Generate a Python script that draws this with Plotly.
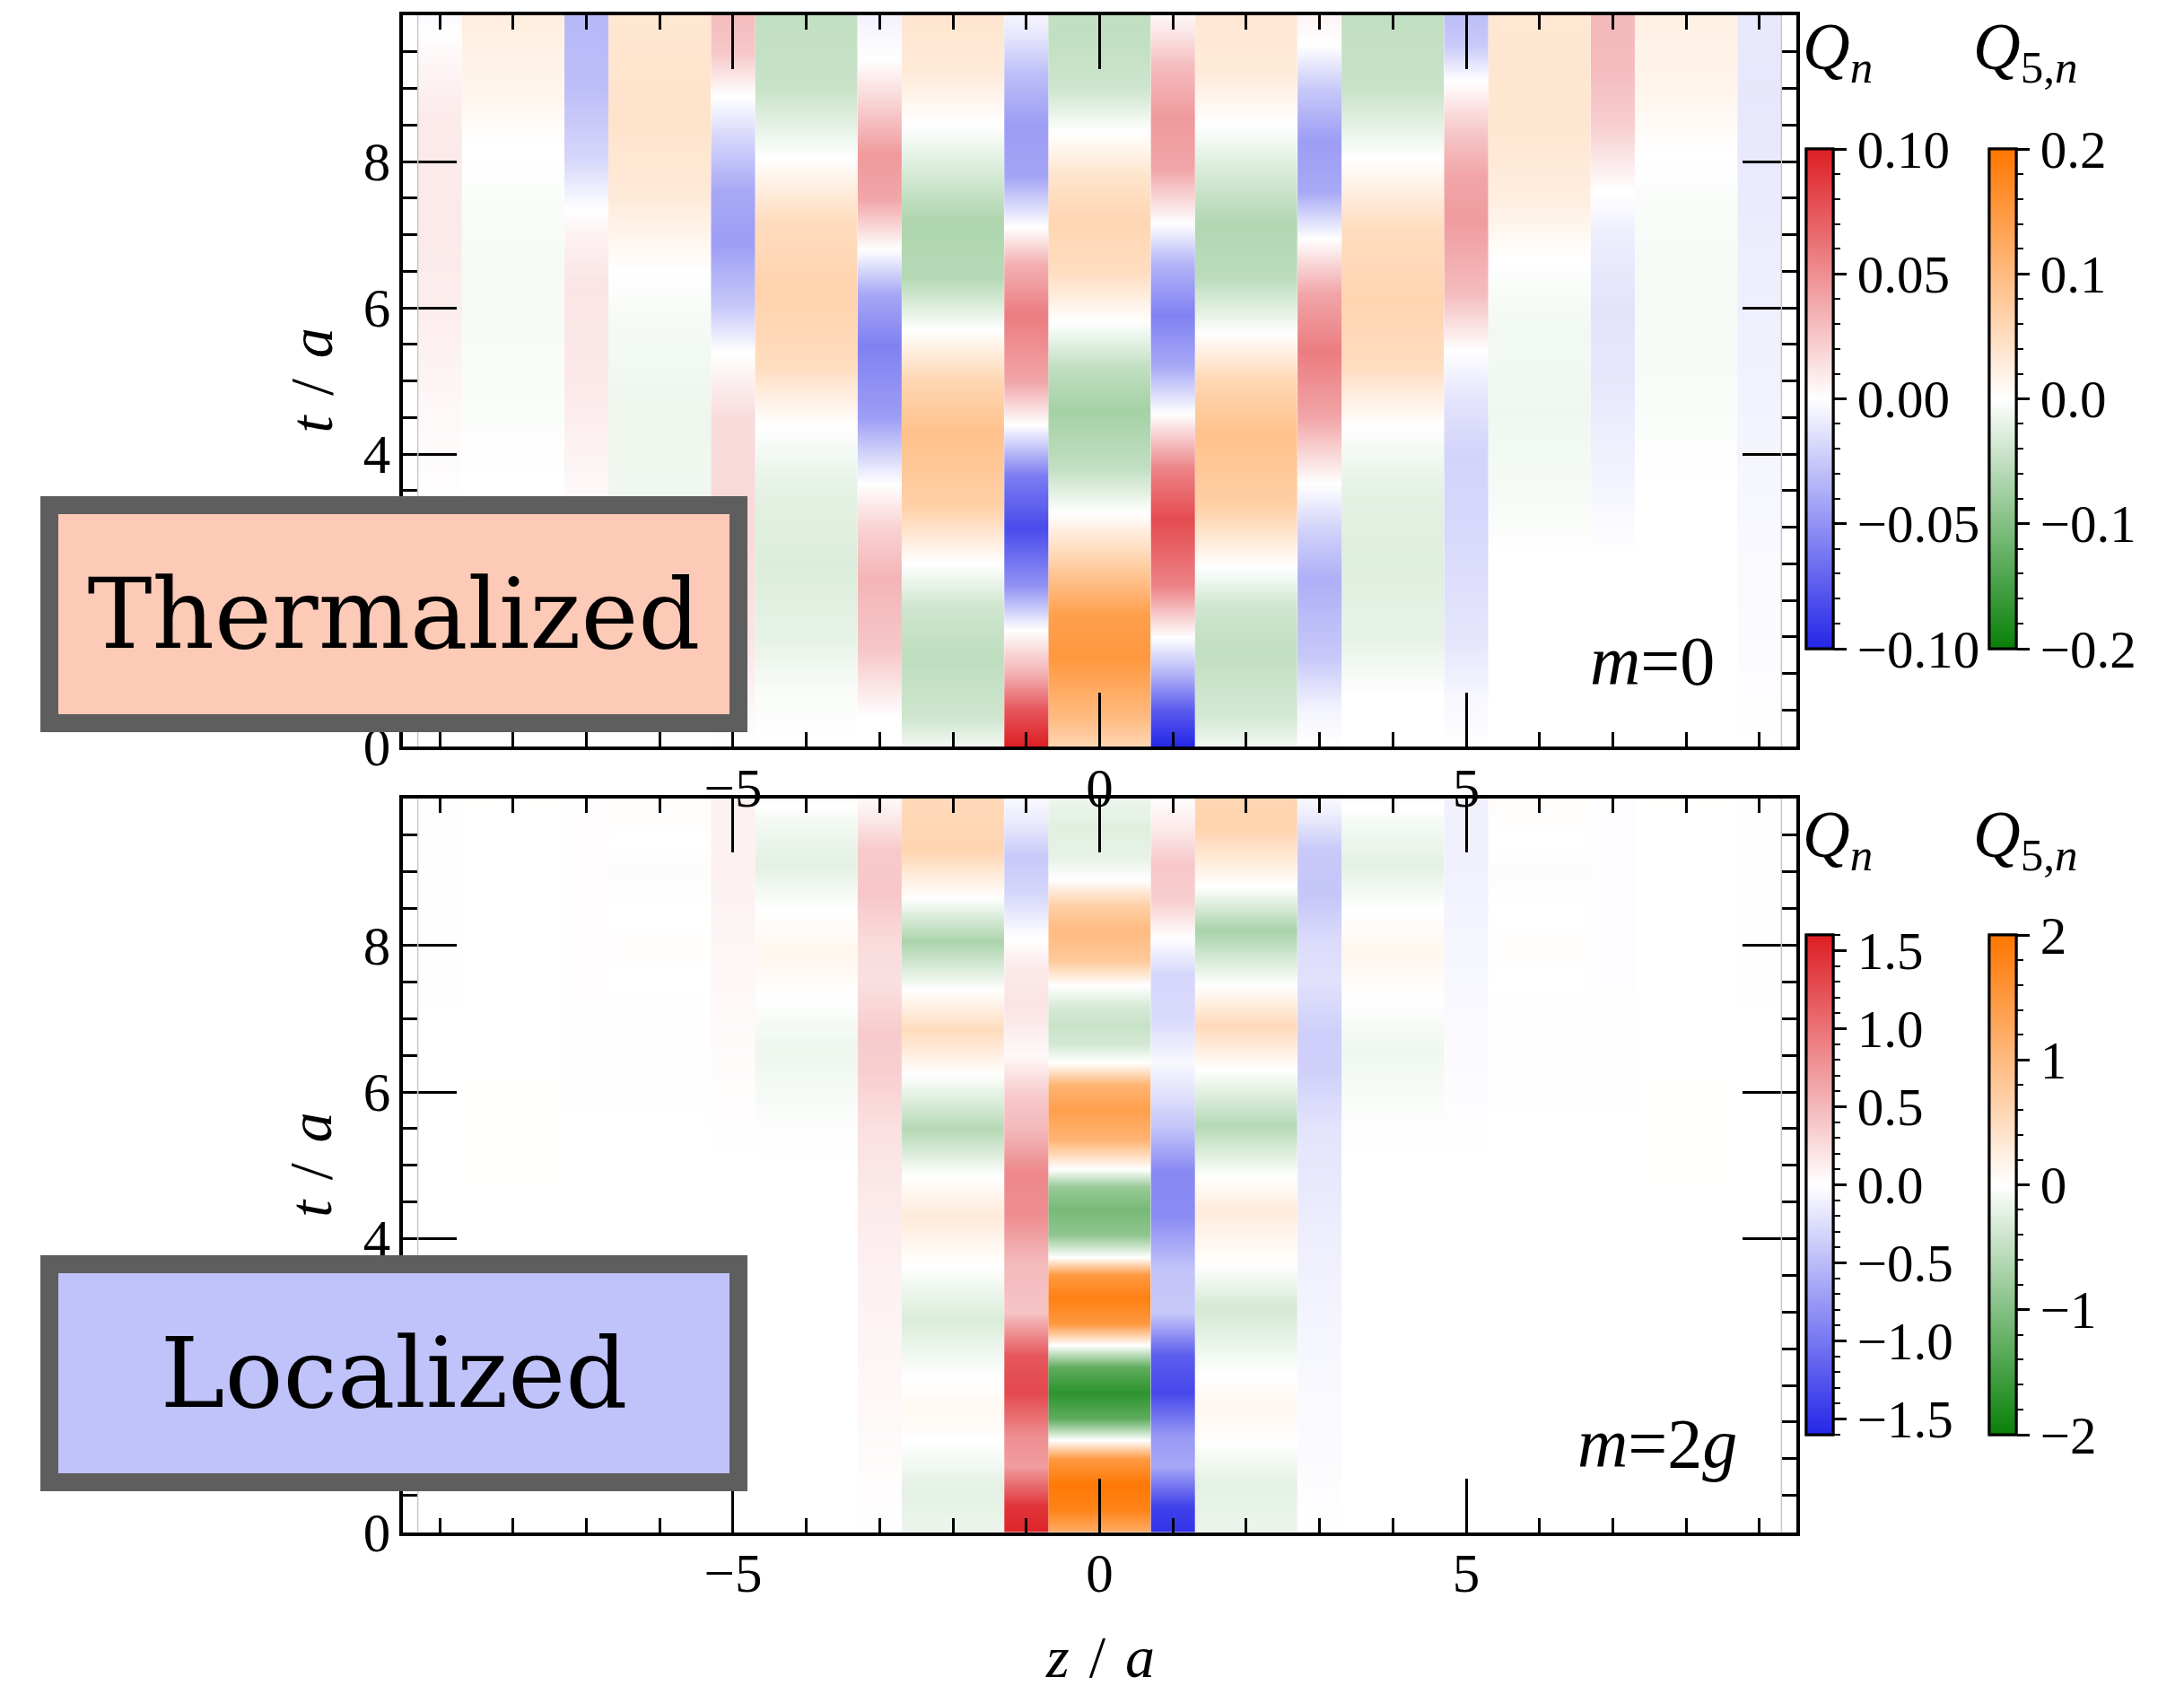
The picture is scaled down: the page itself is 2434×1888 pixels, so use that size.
import plotly.graph_objects as go

W, H = 2434, 1888

# ---------------- data ----------------
SITES = [-9, -7, -5, -3, -1, 1, 3, 5, 7, 9]      # narrow columns : Q_n
LINKS = [-8, -6, -4, -2, 0, 2, 4, 6, 8]          # wide columns   : Q_5,n
SITE_HALF = 0.3
LINK_HALF = 0.7

# m = 0  (thermalized) : Q_n(t) keypoints per site, (t, value)
QN_M0 = [
    [(0, 0), (3, 0), (4.5, 0.003), (6, 0.008), (7.5, 0.01), (8.5, 0.01), (9.5, 0.003), (10, -0.002)],
    [(0, 0), (2.5, 0), (3.5, 0.003), (5, 0.01), (6.3, 0.012), (7.0, 0.006), (7.35, 0), (8, -0.018), (9, -0.03), (10, -0.033)],
    [(0, 0), (0.7, 0.005), (1.5, 0.012), (3, 0.017), (4.5, 0.016), (5.4, 0), (6, -0.025), (6.9, -0.045), (7.6, -0.04), (8.3, -0.02), (8.9, 0), (9.5, 0.025), (10, 0.03)],
    [(0, 0), (0.4, 0), (1.3, 0.025), (2.3, 0.033), (3.0, 0.02), (3.6, 0), (4.5, -0.045), (5.5, -0.058), (6.2, -0.04), (6.8, 0), (7.5, 0.04), (8.1, 0.045), (8.8, 0.02), (9.4, 0), (10, -0.006)],
    [(0, 0.1), (0.5, 0.075), (1.0, 0.035), (1.6, 0), (2.2, -0.05), (3.0, -0.083), (3.7, -0.06), (4.4, 0), (5.0, 0.04), (5.9, 0.058), (6.6, 0.035), (7.1, 0), (7.8, -0.042), (8.5, -0.045), (9.2, -0.03), (9.7, -0.012), (10, -0.005)],
    [(0, -0.1), (0.5, -0.075), (1.0, -0.035), (1.5, 0), (2.2, 0.055), (3.1, 0.08), (3.8, 0.055), (4.55, 0), (5.2, -0.04), (5.9, -0.058), (6.6, -0.035), (7.15, 0), (7.9, 0.04), (8.6, 0.045), (9.3, 0.03), (9.8, 0.01), (10, 0.004)],
    [(0, 0), (0.5, -0.005), (1.2, -0.025), (2.3, -0.037), (3.0, -0.02), (3.6, 0), (4.5, 0.04), (5.4, 0.058), (6.2, 0.04), (6.95, 0), (7.6, -0.04), (8.3, -0.045), (9.0, -0.025), (9.6, 0), (10, 0.005)],
    [(0, 0), (0.7, -0.004), (1.5, -0.012), (3, -0.018), (4, -0.02), (4.8, -0.012), (5.4, 0), (6.2, 0.03), (7.2, 0.044), (7.8, 0.04), (8.4, 0.025), (9.1, 0), (9.6, -0.025), (10, -0.03)],
    [(0, 0), (2.6, 0), (3.6, -0.005), (5, -0.011), (6, -0.013), (7, -0.008), (7.6, 0), (8.5, 0.022), (9.3, 0.03), (10, 0.031)],
    [(0, 0), (3.6, -0.004), (5, -0.006), (6.5, -0.008), (8, -0.01), (9, -0.011), (10, -0.01)],
]

# m = 0 : Q_5,n(t) keypoints per link
Q5_M0 = [
    [(0, 0), (3.5, 0), (5, -0.005), (6.5, -0.008), (7.5, -0.004), (8.2, 0), (9, 0.015), (10, 0.025)],
    [(0, 0), (2.5, -0.004), (3.5, -0.012), (4.5, -0.014), (5.8, -0.008), (6.5, 0), (7.5, 0.03), (8.5, 0.04), (9.5, 0.038), (10, 0.035)],
    [(0, 0), (0.8, -0.005), (1.5, -0.02), (2.5, -0.028), (3.5, -0.022), (4.4, 0), (5.2, 0.05), (6.2, 0.065), (7.2, 0.05), (8.05, 0), (9, -0.045), (10, -0.05)],
    [(0, -0.01), (0.4, -0.04), (1.2, -0.052), (1.9, -0.04), (2.5, 0), (3.3, 0.07), (4.3, 0.09), (5.0, 0.06), (5.7, 0), (6.4, -0.06), (7.2, -0.065), (7.9, -0.03), (8.5, 0), (9.2, 0.03), (10, 0.038)],
    [(0, 0.06), (0.4, 0.1), (1.2, 0.15), (1.8, 0.14), (2.5, 0.07), (3.2, 0), (3.8, -0.05), (4.6, -0.073), (5.2, -0.05), (5.8, 0), (6.5, 0.05), (7.2, 0.06), (7.8, 0.04), (8.4, 0), (9.0, -0.04), (9.7, -0.05), (10, -0.05)],
    [(0, -0.01), (0.4, -0.035), (1.3, -0.05), (1.9, -0.04), (2.45, 0), (3.3, 0.07), (4.25, 0.09), (5.0, 0.06), (5.65, 0), (6.4, -0.055), (7.15, -0.063), (7.9, -0.03), (8.5, 0), (9.2, 0.03), (10, 0.035)],
    [(0, 0), (0.7, 0), (1.5, -0.02), (2.5, -0.026), (3.5, -0.022), (4.4, 0), (5.2, 0.05), (6.1, 0.062), (7.1, 0.05), (8.05, 0), (9, -0.045), (10, -0.05)],
    [(0, 0), (2.6, 0), (3.5, -0.008), (4.5, -0.012), (5.8, -0.01), (6.65, 0), (7.5, 0.025), (8.5, 0.037), (9.5, 0.037), (10, 0.035)],
    [(0, 0), (3.5, 0), (5, -0.006), (6.5, -0.008), (7.5, -0.004), (8.1, 0), (9, 0.015), (10, 0.022)],
]

# m = 2g  (localized) : Q_n(t) keypoints per site
QN_M2 = [
    [(0, 0), (5, 0), (8, 0.005), (10, 0.005)],
    [(0, 0), (5, 0), (7, 0.01), (9, 0.015), (10, 0.015)],
    [(0, 0), (5, 0), (6.5, 0.03), (8, 0.07), (9, 0.1), (10, 0.1)],
    [(0, 0), (0.7, 0.02), (2, 0.06), (3.5, 0.1), (4.5, 0.15), (5.5, 0.22), (6.3, 0.35), (6.8, 0.37), (7.5, 0.22), (8.0, 0.25), (8.7, 0.4), (9.3, 0.38), (9.8, 0.12), (10, 0.05)],
    [(0, 1.55), (0.35, 1.45), (0.9, 0.7), (1.3, 0.8), (1.9, 1.3), (2.4, 1.2), (3.0, 0.42), (3.7, 0.5), (4.3, 0.8), (4.9, 0.85), (5.5, 0.5), (5.9, 0.4), (6.5, 0.05), (7.2, 0.2), (7.7, 0.15), (8.1, 0), (8.7, -0.3), (9.2, -0.4), (9.7, -0.15), (10, -0.05)],
    [(0, -1.5), (0.35, -1.4), (0.9, -0.65), (1.3, -0.75), (1.9, -1.35), (2.4, -1.2), (3.0, -0.4), (3.6, -0.45), (4.3, -0.85), (4.9, -0.88), (5.5, -0.45), (5.9, -0.25), (6.4, -0.05), (7.0, -0.28), (7.6, -0.3), (8.1, 0), (8.6, 0.35), (9.1, 0.4), (9.6, 0.15), (10, 0.02)],
    [(0, 0), (0.7, -0.02), (2, -0.05), (3.5, -0.1), (4.5, -0.15), (5.5, -0.2), (6.3, -0.35), (6.8, -0.36), (7.5, -0.22), (8.0, -0.25), (8.7, -0.42), (9.3, -0.4), (9.8, -0.12), (10, -0.05)],
    [(0, 0), (5, 0), (6.5, -0.03), (8, -0.07), (9, -0.1), (10, -0.1)],
    [(0, 0), (5, 0), (7, -0.01), (9, -0.015), (10, -0.015)],
    [(0, 0), (5, 0), (8, -0.005), (10, -0.005)],
]

# m = 2g : Q_5,n(t) keypoints per link
Q5_M2 = [
    [(0, 0), (6, 0.005), (8, -0.005), (10, 0.005)],
    [(0, 0), (5, 0), (7, -0.02), (8, 0.02), (9, -0.03), (10, 0.04)],
    [(0, 0), (5, 0), (5.6, -0.03), (6.6, -0.14), (7.3, 0), (7.9, 0.13), (8.5, 0), (9.1, -0.22), (9.7, -0.1), (10, 0.05)],
    [(0, -0.15), (0.6, -0.22), (1.0, -0.08), (1.25, 0), (1.7, 0.11), (2.1, 0), (2.9, -0.3), (3.65, 0), (4.3, 0.3), (4.85, 0), (5.5, -0.6), (6.25, 0), (6.85, 0.52), (7.4, 0), (8.05, -0.68), (8.65, 0), (9.3, 0.62), (10, 0.55)],
    [(0, 1.2), (0.3, 1.8), (0.65, 1.95), (1.0, 1.5), (1.25, 0), (1.55, -1.3), (1.9, -1.7), (2.25, -1.3), (2.55, 0), (2.85, 1.5), (3.2, 1.85), (3.5, 1.5), (3.75, 0), (4.05, -0.9), (4.4, -1.1), (4.7, -0.85), (4.95, 0), (5.35, 1.1), (5.75, 1.4), (6.1, 1.1), (6.4, 0), (6.65, -0.35), (6.9, -0.45), (7.15, -0.35), (7.45, 0), (7.8, 0.8), (8.2, 1.0), (8.55, 0.7), (8.9, 0), (9.2, -0.2), (9.6, -0.25), (10, -0.15)],
    [(0, -0.15), (0.65, -0.22), (1.0, -0.1), (1.2, 0), (1.7, 0.12), (2.15, 0), (3.05, -0.35), (3.65, 0), (4.4, 0.28), (4.85, 0), (5.55, -0.6), (6.3, 0), (6.9, 0.55), (7.45, 0), (8.2, -0.7), (8.8, 0), (9.6, 0.65), (10, 0.6)],
    [(0, 0), (5, 0), (5.7, -0.03), (6.6, -0.13), (7.3, 0), (7.9, 0.13), (8.5, 0), (9.1, -0.22), (9.7, -0.08), (10, 0.05)],
    [(0, 0), (5, 0), (7, -0.02), (8, 0.02), (9, -0.03), (10, 0.04)],
    [(0, 0), (6, 0.005), (8, -0.005), (10, 0.005)],
]

# axis / colour-bar ticks
X_RANGE = [-9.5, 9.5]
Y_RANGE = [0, 10]
X_TICKS = [-5, 0, 5]
X_MINOR = [-9, -8, -7, -6, -5, -4, -3, -2, -1, 0, 1, 2, 3, 4, 5, 6, 7, 8, 9]
Y_TICKS = [0, 2, 4, 6, 8]
Y_TICKTEXT = ["0", "", "4", "6", "8"]        # the "2" is hidden behind the regime box
Y_MINOR = [0, 0.5, 1, 1.5, 2, 2.5, 3, 3.5, 4, 4.5, 5, 5.5, 6, 6.5, 7, 7.5, 8, 8.5, 9, 9.5]

QN_M0_RANGE = [-0.1, 0.1]
Q5_M0_RANGE = [-0.2, 0.2]
QN_M2_RANGE = [-1.6, 1.6]
Q5_M2_RANGE = [-2.0, 2.0]
QN_M0_CB = [-0.10, -0.05, 0.0, 0.05, 0.10]
Q5_M0_CB = [-0.2, -0.1, 0.0, 0.1, 0.2]
QN_M2_CB = [-1.5, -1.0, -0.5, 0.0, 0.5, 1.0, 1.5]
Q5_M2_CB = [-2, -1, 0, 1, 2]
QN_M0_CB_MINOR = [round(-0.1 + 0.01 * i, 3) for i in range(21)]
Q5_M0_CB_MINOR = [round(-0.2 + 0.02 * i, 3) for i in range(21)]
QN_M2_CB_MINOR = [round(-1.6 + 0.1 * i, 2) for i in range(33)]
Q5_M2_CB_MINOR = [round(-2.0 + 0.2 * i, 2) for i in range(21)]

# ---------------- styles ----------------
FONT = "Liberation Serif"
CS_QN = [[0, "rgb(36,38,232)"], [0.5, "rgb(255,255,255)"], [1, "rgb(221,30,36)"]]
CS_Q5 = [[0, "rgb(8,128,8)"], [0.5, "rgb(255,255,255)"], [1, "rgb(255,118,0)"]]

# bottom panel (m=2g) on x/y, top panel (m=0) on x2/y2 so that the top panel's
# tick labels are drawn above the lower panel
TOP = ("x2", "y2")
BOT = ("x", "y")

fig = go.Figure()


def add_columns(centers, half, series, cax, axes):
    for zc, pts in zip(centers, series):
        ts = [p[0] for p in pts]
        vs = [p[1] for p in pts]
        fig.add_trace(go.Heatmap(
            x=[zc - half, zc, zc + half], y=ts, z=[[v, v] for v in vs],
            zsmooth="best", coloraxis=cax, xaxis=axes[0], yaxis=axes[1],
            hoverinfo="skip", showscale=False))


add_columns(LINKS, LINK_HALF, Q5_M2, "coloraxis4", BOT)
add_columns(SITES, SITE_HALF, QN_M2, "coloraxis3", BOT)
add_columns(LINKS, LINK_HALF, Q5_M0, "coloraxis2", TOP)
add_columns(SITES, SITE_HALF, QN_M0, "coloraxis", TOP)

# dummy (off-range) traces carrying the minor-tick overlay colour bars
for k, axes in zip(range(5, 9), [TOP, TOP, BOT, BOT]):
    fig.add_trace(go.Heatmap(x=[50], y=[50], z=[[0]], coloraxis=f"coloraxis{k}",
                             xaxis=axes[0], yaxis=axes[1], hoverinfo="skip"))

CB_LEN = 557
CB_THICK = 30


def cbar(x_px, top_px, vals, fmt, minor):
    d = dict(x=x_px / W, xanchor="left", xpad=0, xref="paper",
             y=1 - top_px / H, yanchor="top", ypad=0, yref="paper",
             len=CB_LEN / H, lenmode="fraction",
             thickness=CB_THICK, thicknessmode="pixels",
             outlinewidth=3, outlinecolor="black", borderwidth=0,
             ticks="outside", tickcolor="black",
             tickmode="array", tickvals=vals,
             tickfont=dict(family=FONT, size=59, color="black"))
    if minor:
        d.update(ticklen=7, tickwidth=2, showticklabels=False)
    else:
        d.update(ticklen=14, tickwidth=2.5, tickformat=fmt)
    return d


TOP_CB, BOT_CB = 166, 1042
XQN, XQ5 = 2013, 2217

fig.update_layout(
    coloraxis=dict(colorscale=CS_QN, cmin=QN_M0_RANGE[0], cmax=QN_M0_RANGE[1],
                   colorbar=cbar(XQN, TOP_CB, QN_M0_CB, ".2f", False)),
    coloraxis2=dict(colorscale=CS_Q5, cmin=Q5_M0_RANGE[0], cmax=Q5_M0_RANGE[1],
                    colorbar=cbar(XQ5, TOP_CB, Q5_M0_CB, ".1f", False)),
    coloraxis3=dict(colorscale=CS_QN, cmin=QN_M2_RANGE[0], cmax=QN_M2_RANGE[1],
                    colorbar=cbar(XQN, BOT_CB, QN_M2_CB, ".1f", False)),
    coloraxis4=dict(colorscale=CS_Q5, cmin=Q5_M2_RANGE[0], cmax=Q5_M2_RANGE[1],
                    colorbar=cbar(XQ5, BOT_CB, Q5_M2_CB, "d", False)),
    coloraxis5=dict(colorscale=CS_QN, cmin=QN_M0_RANGE[0], cmax=QN_M0_RANGE[1],
                    colorbar=cbar(XQN, TOP_CB, QN_M0_CB_MINOR, "", True)),
    coloraxis6=dict(colorscale=CS_Q5, cmin=Q5_M0_RANGE[0], cmax=Q5_M0_RANGE[1],
                    colorbar=cbar(XQ5, TOP_CB, Q5_M0_CB_MINOR, "", True)),
    coloraxis7=dict(colorscale=CS_QN, cmin=QN_M2_RANGE[0], cmax=QN_M2_RANGE[1],
                    colorbar=cbar(XQN, BOT_CB, QN_M2_CB_MINOR, "", True)),
    coloraxis8=dict(colorscale=CS_Q5, cmin=Q5_M2_RANGE[0], cmax=Q5_M2_RANGE[1],
                    colorbar=cbar(XQ5, BOT_CB, Q5_M2_CB_MINOR, "", True)),
)

XDOM = [449.3 / W, 2001.7 / W]
TOP_DOM = [1 - 832 / H, 1 - 17 / H]
BOT_DOM = [1 - 1707.5 / H, 1 - 890 / H]

ax_common = dict(showline=True, linecolor="black", linewidth=3.5, mirror="allticks",
                 ticks="inside", ticklen=60, tickwidth=3, tickcolor="black",
                 showgrid=False, zeroline=False, tickmode="array", automargin=False,
                 tickfont=dict(family=FONT, size=61, color="black"))

xa = dict(ax_common, range=X_RANGE, tickvals=X_TICKS, ticklabelstandoff=-10,
          minor=dict(tickmode="array", tickvals=X_MINOR, ticks="inside", ticklen=16,
                     tickwidth=2.5, tickcolor="black", showgrid=False))
ya = dict(ax_common, range=Y_RANGE, tickvals=Y_TICKS, ticktext=Y_TICKTEXT, ticklabelstandoff=-2,
          minor=dict(tickmode="array", tickvals=Y_MINOR, ticks="inside", ticklen=16,
                     tickwidth=2.5, tickcolor="black", showgrid=False))

fig.update_layout(
    xaxis=dict(xa, domain=XDOM, anchor="y"),
    yaxis=dict(ya, domain=BOT_DOM, anchor="x"),
    xaxis2=dict(xa, domain=XDOM, anchor="y2"),
    yaxis2=dict(ya, domain=TOP_DOM, anchor="x2"),
)

# faint edge lines of the data region
edge_lo = SITES[0] - SITE_HALF
edge_hi = SITES[-1] + SITE_HALF
shapes = []
for axes in (TOP, BOT):
    for xe in (edge_lo, edge_hi):
        shapes.append(dict(type="line", xref=axes[0], yref=axes[1], x0=xe, x1=xe,
                           y0=Y_RANGE[0], y1=Y_RANGE[1],
                           line=dict(color="rgb(200,200,200)", width=1.5), layer="above"))

ann = []
# colour bar titles
for ytop in (58, 935):
    ann.append(dict(x=2007 / W, y=1 - ytop / H, xref="paper", yref="paper", xanchor="left", yanchor="middle",
                    text="<i>Q</i><sub><i>n</i></sub>", showarrow=False,
                    font=dict(family=FONT, size=73, color="black")))
    ann.append(dict(x=2197 / W, y=1 - ytop / H, xref="paper", yref="paper", xanchor="left", yanchor="middle",
                    text="<i>Q</i><sub>5,<i>n</i></sub>", showarrow=False,
                    font=dict(family=FONT, size=73, color="black")))
# mass labels
ann.append(dict(x=1913 / W, y=1 - 736 / H, xref="paper", yref="paper", xanchor="right", yanchor="middle",
                text="<i>m</i>=0", showarrow=False, font=dict(family=FONT, size=78, color="black")))
ann.append(dict(x=1938 / W, y=1 - 1608 / H, xref="paper", yref="paper", xanchor="right", yanchor="middle",
                text="<i>m</i>=2<i>g</i>", showarrow=False, font=dict(family=FONT, size=78, color="black")))
# axis titles
for axes in (TOP, BOT):
    ann.append(dict(x=346 / W, y=5, xref="paper", yref=axes[1], xanchor="center", yanchor="middle",
                    text="<i>t</i>\u2004/\u2004<i>a</i>", textangle=-90, showarrow=False,
                    font=dict(family=FONT, size=68, color="black")))
ann.append(dict(x=0, y=1 - 1846 / H, xref=BOT[0], yref="paper", xanchor="center", yanchor="middle",
                text="<i>z</i>\u2004/\u2004<i>a</i>", showarrow=False,
                font=dict(family=FONT, size=66, color="black")))
# regime boxes
ann.append(dict(x=439 / W, y=1 - 684.5 / H, xref="paper", yref="paper", xanchor="center", yanchor="middle",
                text="Thermalized", showarrow=False, font=dict(family="DejaVu Serif", size=108, color="black"),
                bgcolor="rgb(252,202,182)", bordercolor="rgb(94,94,94)", borderwidth=20, borderpad=0,
                width=748, height=223, align="center", valign="middle"))
ann.append(dict(x=439 / W, y=1 - 1530.5 / H, xref="paper", yref="paper", xanchor="center", yanchor="middle",
                text="Localized", showarrow=False, font=dict(family="DejaVu Serif", size=108, color="black"),
                bgcolor="rgb(191,195,250)", bordercolor="rgb(94,94,94)", borderwidth=20, borderpad=0,
                width=748, height=223, align="center", valign="middle"))

fig.update_layout(
    width=W, height=H, margin=dict(l=0, r=0, t=0, b=0, pad=0, autoexpand=False),
    paper_bgcolor="white", plot_bgcolor="white",
    font=dict(family=FONT, color="black"),
    showlegend=False, shapes=shapes, annotations=ann,
)

fig.write_html("out.html")
